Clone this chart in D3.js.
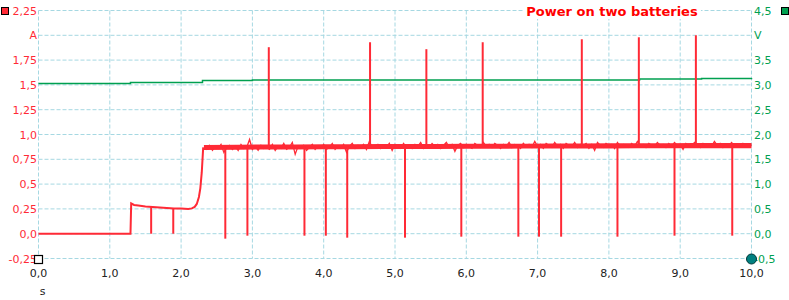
<!DOCTYPE html>
<html>
<head>
<meta charset="utf-8">
<script src="https://cdn.jsdelivr.net/npm/d3@7"></script>
<style>
  body { margin: 0; background: #fff; }
  svg { display: block; }
</style>
</head>
<body>
<div id="chart"></div>
<script>
var width = 789,
    height = 300;

var title = "Power on two batteries";

// ticks
var timeTicks = [0,1,2,3,4,5,6,7,8,9,10];
var timeLabels = ["0,0","1,0","2,0","3,0","4,0","5,0","6,0","7,0","8,0","9,0","10,0"];
var ampTicks = [-0.25,0,0.25,0.5,0.75,1.0,1.25,1.5,1.75,2.0,2.25];
var ampLabels = ["-0,25","0,0","0,25","0,5","0,75","1,0","1,25","1,5","1,75","A","2,25"];
var voltTicks = [-0.5,0,0.5,1.0,1.5,2.0,2.5,3.0,3.5,4.0,4.5];
var voltLabels = ["-0,5","0,0","0,5","1,0","1,5","2,0","2,5","3,0","3,5","V","4,5"];

// current before the plateau [s, A]
var currentStart = [[0,0],[1.29,0],[1.30,0.305],[1.34,0.29],[1.40,0.285],[1.50,0.275],[1.60,0.27],
  [1.70,0.265],[1.80,0.26],[1.90,0.255],[2.00,0.255],[2.10,0.25],[2.15,0.255],[2.19,0.27],
  [2.22,0.30],[2.25,0.37],[2.27,0.46],[2.29,0.62],[2.31,0.87]];

// plateau current, one sample every 0.04 s from 2.32 s
var plateauStart = 2.32, plateauStep = 0.04;
var plateauAmps = [
  0.87,0.85,0.89,0.84,0.88,0.86,0.90,0.82,0.87,0.89,0.85,0.88,0.84,0.90,0.86,0.87,0.95,0.85,0.88,0.84,
  0.89,0.86,0.87,0.85,0.90,0.84,0.88,0.86,0.91,0.85,0.87,0.92,0.80,0.88,0.86,0.89,0.84,0.87,0.90,0.85,
  0.88,0.86,0.90,0.85,0.87,0.91,0.85,0.88,0.86,0.90,0.82,0.88,0.91,0.86,0.89,0.87,0.90,0.85,0.93,0.87,
  0.88,0.90,0.86,0.89,0.87,0.91,0.84,0.90,0.88,0.86,0.91,0.87,0.89,0.86,0.90,0.88,0.92,0.86,0.89,0.87,
  0.91,0.88,0.90,0.86,0.89,0.92,0.87,0.90,0.83,0.89,0.91,0.87,0.90,0.88,0.86,0.91,0.89,0.87,0.92,0.88,
  0.90,0.87,0.91,0.89,0.86,0.90,0.88,0.92,0.87,0.90,0.89,0.86,0.91,0.88,0.90,0.87,0.93,0.88,0.90,0.86,
  0.91,0.89,0.87,0.92,0.88,0.90,0.86,0.91,0.89,0.88,0.92,0.87,0.90,0.89,0.91,0.86,0.90,0.84,0.92,0.89,
  0.87,0.91,0.89,0.90,0.86,0.92,0.88,0.90,0.89,0.87,0.91,0.88,0.93,0.89,0.90,0.87,0.91,0.89,0.88,0.92,
  0.89,0.90,0.87,0.91,0.88,0.92,0.89,0.90,0.85,0.91,0.89,0.88,0.92,0.90,0.87,0.91,0.89,0.90,0.88,0.93,
  0.89,0.91,0.87,0.90,0.88,0.92,0.89,0.90,0.88,0.91,0.89,0.90,0.89];

// dense core of the plateau noise
var bandTimes = [2.32,2.8,3.2,3.6,4.0,4.4,4.8,5.2,5.6,6.0,6.4,6.8,7.2,7.6,8.0,8.4,8.8,9.2,9.6,10.0];
var bandLow  = [0.845,0.847,0.849,0.85,0.851,0.852,0.853,0.854,0.855,0.856,0.857,0.858,0.859,0.86,0.86,0.861,0.862,0.862,0.862,0.862];
var bandHigh = [0.895,0.897,0.899,0.9,0.901,0.902,0.903,0.904,0.905,0.906,0.907,0.908,0.909,0.91,0.911,0.912,0.913,0.914,0.915,0.915];

// spikes
var lowDipTimes = [1.58, 1.89];
var lowDipBase = [0.27, 0.255];
var upSpikeTimes = [3.23, 4.65, 5.44, 6.23, 7.62, 8.42, 9.22];
var upSpikePeaks = [1.88, 1.93, 1.86, 1.93, 1.96, 1.98, 2.00];
var downSpikeTimes = [2.62, 2.93, 3.73, 4.03, 4.33, 5.14, 5.93, 6.73, 7.02, 7.33, 8.12, 8.92, 9.73];
var downSpikeLows = [-0.05, -0.02, -0.02, -0.02, -0.04, -0.04, -0.03, -0.03, -0.03, -0.03, -0.03, -0.02, -0.02];

// voltage [s, V]
var voltage = [[0,3.03],[1.28,3.03],[1.29,3.05],[2.29,3.05],[2.30,3.09],[3.0,3.10],
  [8.42,3.10],[8.43,3.12],[9.3,3.13],[10,3.14]];

var RED = "#ff2a36", GREEN = "#00a050", GRID = "#a6d8e2";

var svg = d3.select("#chart").append("svg")
    .attr("width", width)
    .attr("height", height);

var x = d3.scaleLinear().domain([0, 10]).range([38.5, 751.5]);
var yA = d3.scaleLinear().domain([-0.25, 2.25]).range([258.5, 10.5]);
var yV = d3.scaleLinear().domain([-0.5, 4.5]).range([258.5, 10.5]);

// grid
svg.append("g").selectAll("line")
    .data(ampTicks)
    .enter()
    .append("line")
        .attr("x1", x(0)).attr("x2", x(10))
        .attr("y1", function(d){ return yA(d); })
        .attr("y2", function(d){ return yA(d); })
        .attr("stroke", GRID)
        .attr("stroke-dasharray", "4,2");
svg.append("g").selectAll("line")
    .data(timeTicks)
    .enter()
    .append("line")
        .attr("x1", function(d){ return x(d); })
        .attr("x2", function(d){ return x(d); })
        .attr("y1", yA(2.25)).attr("y2", yA(-0.25))
        .attr("stroke", GRID)
        .attr("stroke-dasharray", "4,2");

// voltage line
var vLine = d3.line()
    .x(function(d){ return x(d[0]); })
    .y(function(d){ return yV(d[1]); })
    .curve(d3.curveStepAfter);
svg.append("path")
    .datum(voltage)
    .attr("d", vLine)
    .attr("fill", "none")
    .attr("stroke", GREEN)
    .attr("stroke-width", 1.5);

// current
var plateau = plateauAmps.map(function(a, i){ return [plateauStart + i*plateauStep, a]; });
var band = bandTimes.map(function(t, i){ return {t: t, lo: bandLow[i], hi: bandHigh[i]}; });

svg.append("path")
    .datum(band)
    .attr("d", d3.area()
        .x(function(d){ return x(d.t); })
        .y0(function(d){ return yA(d.lo); })
        .y1(function(d){ return yA(d.hi); }))
    .attr("fill", RED);

svg.append("path")
    .datum(currentStart)
    .attr("d", d3.line()
        .x(function(d){ return x(d[0]); })
        .y(function(d){ return yA(d[1]); }))
    .attr("fill", "none")
    .attr("stroke", RED)
    .attr("stroke-width", 2);

svg.append("path")
    .datum(plateau)
    .attr("d", d3.line()
        .x(function(d){ return x(d[0]); })
        .y(function(d){ return yA(d[1]); }))
    .attr("fill", "none")
    .attr("stroke", RED)
    .attr("stroke-width", 1.3);

var spikes = [];
lowDipTimes.forEach(function(t, i){ spikes.push({t: t, from: lowDipBase[i], to: 0}); });
upSpikeTimes.forEach(function(t, i){ spikes.push({t: t, from: 0.89, to: upSpikePeaks[i]}); });
downSpikeTimes.forEach(function(t, i){ spikes.push({t: t, from: 0.88, to: downSpikeLows[i]}); });

svg.append("g").selectAll("line")
    .data(spikes)
    .enter()
    .append("line")
        .attr("x1", function(d){ return x(d.t); })
        .attr("x2", function(d){ return x(d.t); })
        .attr("y1", function(d){ return yA(d.from); })
        .attr("y2", function(d){ return yA(d.to); })
        .attr("stroke", RED)
        .attr("stroke-width", 2);

// axis labels
var font = "DejaVu Sans";
svg.append("g").selectAll("text")
    .data(ampTicks)
    .enter()
    .append("text")
        .attr("x", 37)
        .attr("y", function(d){ return yA(d) + 4; })
        .attr("text-anchor", "end")
        .attr("font-family", font)
        .attr("font-size", "11px")
        .attr("fill", RED)
        .text(function(d, i){ return ampLabels[i]; });
svg.append("g").selectAll("text")
    .data(voltTicks)
    .enter()
    .append("text")
        .attr("x", 754)
        .attr("y", function(d){ return yV(d) + 4; })
        .attr("text-anchor", "start")
        .attr("font-family", font)
        .attr("font-size", "11px")
        .attr("fill", GREEN)
        .text(function(d, i){ return voltLabels[i]; });
svg.append("g").selectAll("text")
    .data(timeTicks)
    .enter()
    .append("text")
        .attr("x", function(d){ return x(d); })
        .attr("y", 277)
        .attr("text-anchor", "middle")
        .attr("font-family", font)
        .attr("font-size", "11px")
        .attr("fill", "#222")
        .text(function(d, i){ return timeLabels[i]; });
svg.append("text")
    .attr("x", x(0) + 4)
    .attr("y", 295)
    .attr("text-anchor", "middle")
    .attr("font-family", font)
    .attr("font-size", "11px")
    .attr("fill", "#222")
    .text("s");

// title with white box over the grid
var titleBox = svg.append("rect").attr("fill", "#fff");
var t = svg.append("text")
    .attr("x", 612)
    .attr("y", 16)
    .attr("text-anchor", "middle")
    .attr("font-family", font)
    .attr("font-weight", "bold")
    .attr("font-size", "13px")
    .attr("fill", "#ff0000")
    .text(title);
var bb = t.node().getBBox();
titleBox.attr("x", bb.x - 3).attr("y", bb.y).attr("width", bb.width + 6).attr("height", bb.height);

// markers
svg.append("rect").attr("x", 1.5).attr("y", 7.5).attr("width", 7).attr("height", 7)
    .attr("fill", RED).attr("stroke", "#000");
svg.append("rect").attr("x", 781.5).attr("y", 7.5).attr("width", 7).attr("height", 7)
    .attr("fill", GREEN).attr("stroke", "#000");
svg.append("rect").attr("x", x(0) - 4).attr("y", 255.5).attr("width", 8).attr("height", 8)
    .attr("fill", "#fff").attr("stroke", "#000").attr("stroke-width", 1.2);
svg.append("circle").attr("cx", x(10)).attr("cy", 259).attr("r", 5)
    .attr("fill", "#008080").attr("stroke", "#003838");
</script>
</body>
</html>
